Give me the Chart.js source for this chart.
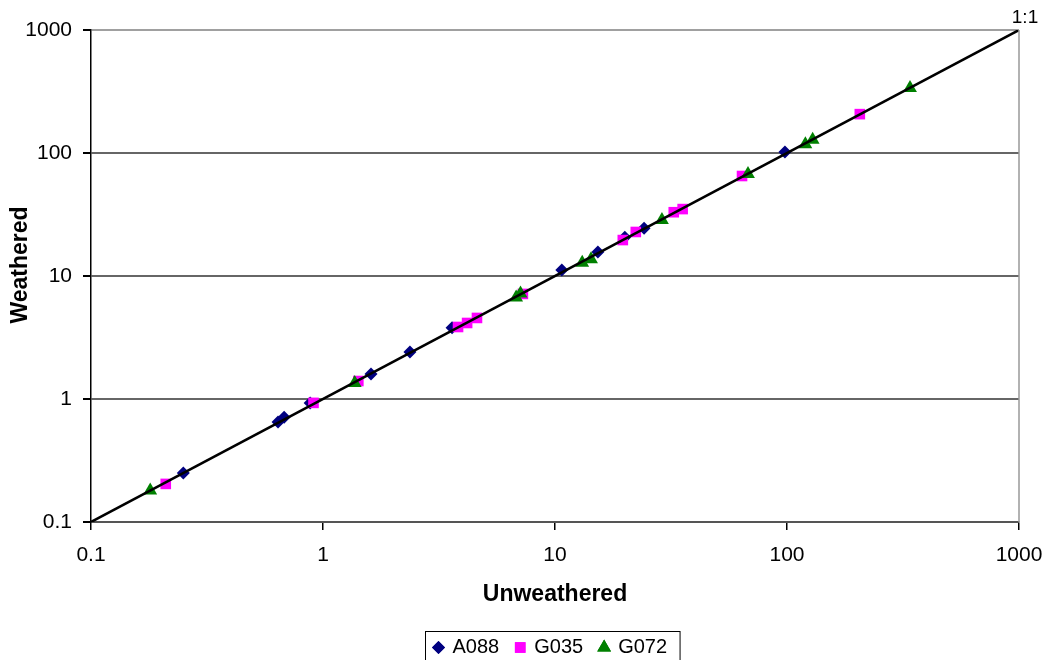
<!DOCTYPE html>
<html>
<head>
<meta charset="utf-8">
<script src="https://cdn.jsdelivr.net/npm/chart.js@4.4.1/dist/chart.umd.min.js"></script>
<style>
    body { margin: 0; background: #fff; }
    canvas { display: block; }
</style>
</head>
<body>
<canvas id="myChart" width="1050" height="660"></canvas>
<script>
// axis ticks (log scale, powers of ten only)
var tickValues = [0.1, 1, 10, 100, 1000];
var tickLabels = ["0.1", "1", "10", "100", "1000"];

var seriesNames = ["A088", "G035", "G072"];

// unweathered (x) vs weathered (y)
var a088X = [0.25, 0.64, 0.68, 0.88, 1.61, 2.37, 3.6, 10.7, 15.3, 20, 24.2, 98];
var a088Y = [0.25, 0.65, 0.71, 0.93, 1.6, 2.41, 3.8, 11.2, 15.7, 20.7, 24.5, 102];

var g035X = [0.21, 0.91, 1.42, 3.82, 4.18, 4.61, 7.27, 19.6, 22.3, 32.5, 35.5, 64, 206];
var g035Y = [0.204, 0.93, 1.4, 3.85, 4.15, 4.56, 7.15, 19.6, 22.8, 33, 35, 65, 207];

var g072X = [0.18, 1.37, 6.8, 7.1, 13.1, 14.3, 28.9, 67.9, 120, 129, 339];
var g072Y = [0.18, 1.35, 6.7, 7.2, 12.8, 13.7, 28.5, 67.5, 118, 128, 337];

// 1:1 reference line
var oneToOne = [0.1, 1000];

function toPoints(xs, ys) {
    return xs.map(function (x, i) {
        return {x: x, y: ys[i]};
    });
}

var FONT = "'Liberation Sans', Arial, sans-serif";
Chart.defaults.font.family = FONT;
Chart.defaults.color = "#000";

function powersOnly(scale) {
    scale.ticks = tickValues.map(function (v) { return {value: v}; });
}

// right border, y title, "1:1" label and a boxed legend like the original
var extras = {
    id: "extras",
    afterDraw: function (chart) {
        var ctx = chart.ctx;
        var area = chart.chartArea;
        ctx.save();

        ctx.strokeStyle = "#999";
        ctx.lineWidth = 1.5;
        ctx.beginPath();
        ctx.moveTo(area.right, area.top);
        ctx.lineTo(area.right, area.bottom);
        ctx.stroke();

        ctx.fillStyle = "#000";
        ctx.font = "19px " + FONT;
        ctx.textAlign = "center";
        ctx.textBaseline = "middle";
        ctx.fillText("1:1", area.right + 6, area.top - 12);

        // y axis title
        ctx.save();
        ctx.translate(21, 265);
        ctx.rotate(-Math.PI / 2);
        ctx.font = "bold 23px " + FONT;
        ctx.fillText("Weathered", 0, 0);
        ctx.restore();

        // legend
        ctx.font = "20px " + FONT;
        ctx.textAlign = "left";
        var items = chart.data.datasets.filter(function (d) { return d.inLegend; });
        var widths = items.map(function (d) { return 20 + ctx.measureText(d.label).width; });
        var gap = 15;
        var total = 7 + 13 + widths.reduce(function (a, b) { return a + b; }, 0) + gap * (items.length - 1);
        var boxLeft = Math.round((area.left + area.right) / 2 - 3 - total / 2) + 0.5;
        var boxTop = area.bottom + 109.5;
        ctx.strokeStyle = "#000";
        ctx.lineWidth = 1;
        ctx.strokeRect(boxLeft, boxTop, total, 40);

        var cx = boxLeft + 7;
        var cy = boxTop + 16;
        items.forEach(function (d, i) {
            ctx.fillStyle = d.backgroundColor;
            Chart.helpers.drawPoint(ctx, {
                pointStyle: d.pointStyle,
                radius: d.pointRadius,
                rotation: 0,
                borderWidth: 0
            }, cx + 6, cy);
            ctx.fill();
            ctx.fillStyle = "#000";
            ctx.fillText(d.label, cx + 20, cy);
            cx += widths[i] + gap;
        });

        ctx.restore();
    }
};

var ctx = document.getElementById("myChart");

var chart = new Chart(ctx, {
    type: "scatter",
    data: {
        datasets: [{
            label: seriesNames[0],
            data: toPoints(a088X, a088Y),
            pointStyle: "rectRot",
            pointRadius: 6.5,
            backgroundColor: "#000080",
            borderWidth: 0,
            order: 3,
            inLegend: true
        }, {
            label: seriesNames[1],
            data: toPoints(g035X, g035Y),
            pointStyle: "rect",
            pointRadius: 7.5,
            backgroundColor: "#ff00ff",
            borderWidth: 0,
            order: 2,
            inLegend: true
        }, {
            label: seriesNames[2],
            data: toPoints(g072X, g072Y),
            pointStyle: "triangle",
            pointRadius: 8,
            backgroundColor: "#008000",
            borderWidth: 0,
            order: 1,
            inLegend: true
        }, {
            label: "1:1",
            data: toPoints(oneToOne, oneToOne),
            showLine: true,
            borderColor: "#000",
            borderWidth: 2.5,
            pointRadius: 0,
            order: 0
        }]
    },
    options: {
        responsive: false,
        animation: false,
        devicePixelRatio: 1,
        layout: {
            padding: {top: 30, right: 31, left: 0, bottom: 0}
        },
        plugins: {
            legend: {display: false},
            tooltip: {enabled: false}
        },
        scales: {
            x: {
                type: "logarithmic",
                position: "bottom",
                min: 0.1,
                max: 1000,
                afterBuildTicks: powersOnly,
                afterFit: function (scale) {
                    scale.height = 138;
                    scale.paddingLeft = 0;
                    scale.paddingRight = 0;
                },
                ticks: {
                    callback: function (v, i) { return tickLabels[i]; },
                    font: {size: 21},
                    padding: 13,
                    maxRotation: 0,
                    autoSkip: false
                },
                grid: {
                    drawOnChartArea: false,
                    tickLength: 8,
                    tickColor: "#000",
                    lineWidth: 1.5
                },
                border: {color: "#555", width: 2},
                title: {
                    display: true,
                    text: "Unweathered",
                    font: {size: 23, weight: "bold"},
                    padding: {top: 0, bottom: 52}
                }
            },
            y: {
                type: "logarithmic",
                min: 0.1,
                max: 1000,
                afterBuildTicks: powersOnly,
                afterFit: function (scale) {
                    scale.width = 91;
                    scale.paddingTop = 0;
                    scale.paddingBottom = 0;
                },
                ticks: {
                    callback: function (v, i) { return tickLabels[i]; },
                    font: {size: 21},
                    padding: 11
                },
                grid: {
                    color: function (c) {
                        return c.tick && c.tick.value === 1000 ? "#a0a0a0" : "#666";
                    },
                    lineWidth: 2,
                    tickLength: 8,
                    tickColor: "#000"
                },
                border: {color: "#000", width: 1.5}
            }
        }
    },
    plugins: [extras]
});
</script>
</body>
</html>
